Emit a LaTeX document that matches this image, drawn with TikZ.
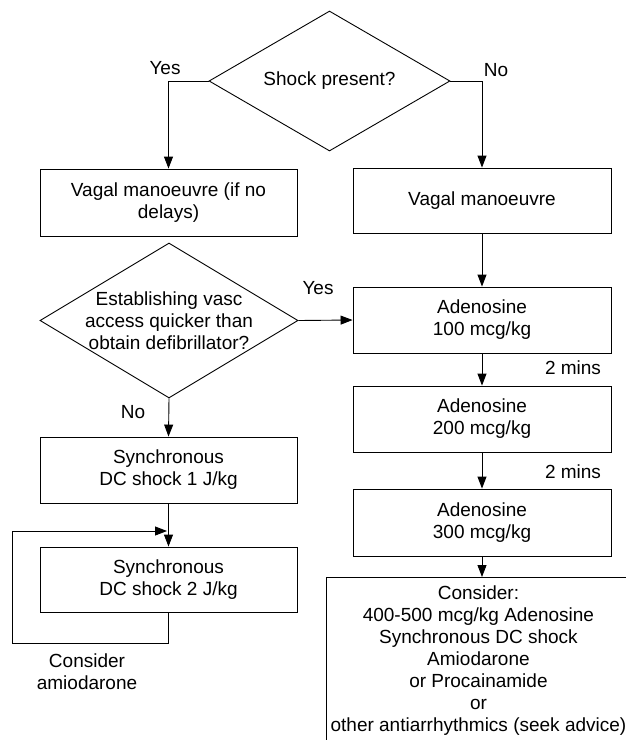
\documentclass[tikz,border=0pt]{standalone}
\usepackage{fontspec}
\setmainfont{Liberation Sans}
\usetikzlibrary{shapes.geometric,arrows.meta}
\begin{document}
\begin{tikzpicture}[x=1pt,y=-1pt,
  font=\fontsize{19}{22}\selectfont,
  line width=0.9pt,
  box/.style={draw, rectangle, minimum width=258pt, align=center, inner sep=0pt},
  dia/.style={draw, diamond, inner sep=0pt},
  arr/.style={-{Triangle[length=12pt,width=9pt]}},
  lbl/.style={inner sep=0pt, align=center}]
\useasboundingbox (0,0) rectangle (626,740);
\clip (0,0) rectangle (626,740);

% decisions
\node[dia, minimum width=241pt, minimum height=140pt] (d1) at (329.5,81) {};
\node[lbl] (d1t) at (d1.center) {Shock present?};
\node[dia, minimum width=258pt, minimum height=155pt] (d2) at (169,320.5) {};
\node[lbl] (d2t) at (d2.center) {Establishing vasc\\access quicker than\\obtain defibrillator?};

% boxes
\node[box, minimum width=257pt, minimum height=67pt] (v1) at (168.5,202.5) {Vagal manoeuvre (if no\\delays)};
\node[box, minimum height=65pt] (v2) at (482,200.5) {Vagal manoeuvre};
\node[box, minimum height=66pt] (a1) at (482,320) {Adenosine\\100 mcg/kg};
\node[box, minimum height=66pt] (a2) at (482,419) {Adenosine\\200 mcg/kg};
\node[box, minimum height=67pt] (a3) at (482,522.5) {Adenosine\\300 mcg/kg};
\node[box, minimum width=257pt, minimum height=66pt] (s1) at (168.5,470) {Synchronous\\DC shock 1 J/kg};
\node[box, minimum width=257pt, minimum height=65pt] (s2) at (168.5,579.5) {Synchronous\\DC shock 2 J/kg};
\node[draw, align=center, anchor=north west, inner xsep=0pt, inner ysep=8pt,
      minimum width=304pt, text depth=170pt] (c) at (326,577)
  {Consider:\\400-500 mcg/kg Adenosine\\Synchronous DC shock\\Amiodarone\\or Procainamide\\or\\other antiarrhythmics (seek advice)};
\coordinate (cin) at (482,577);

% labels
\node[lbl] (yes1) at (165,68) {Yes};
\node[lbl] (no1) at (496,70) {No};
\node[lbl] (yes2) at (318,288) {Yes};
\node[lbl] (no2) at (133,412) {No};
\node[lbl] (m1) at (573,368) {2 mins};
\node[lbl] (m2) at (573,472) {2 mins};
\node[lbl] (ca) at (87,671.5) {Consider\\amiodarone};

% connectors
\draw[arr] (d1.west) -| (v1.north);
\draw[arr] (d1.east) -| (v2.north);
\draw[arr] (v2.south) -- (a1.north);
\draw[arr] (d2.east) -- (a1.west);
\draw[arr] (d2.south) -- (s1.north);
\draw[arr] (a1.south) -- (a2.north);
\draw[arr] (a2.south) -- (a3.north);
\draw[arr] (a3.south) -- (cin);
\draw[arr] (s1.south) -- (s2.north);
\coordinate (lpb) at (168.5,643);
\coordinate (lpl) at (12,643);
\coordinate (lpt) at (12,531);
\coordinate (lpe) at (167,531);
\draw[arr] (s2.south) -- (lpb) -- (lpl) -- (lpt) -- (lpe);
\end{tikzpicture}
\end{document}
